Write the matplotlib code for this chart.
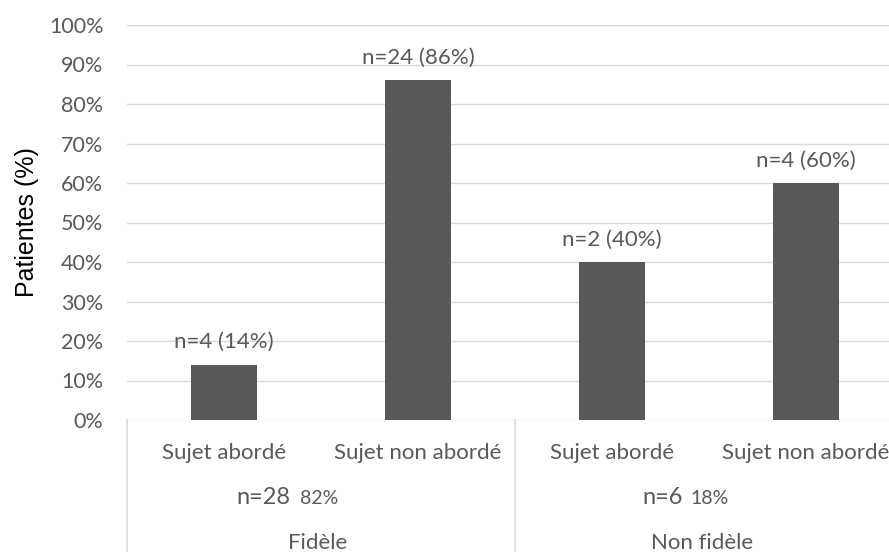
import matplotlib
matplotlib.use("Agg")
from matplotlib import pyplot as plt
from matplotlib import transforms

# Données
categories = ['Sujet abordé', 'Sujet non abordé', 'Sujet abordé', 'Sujet non abordé']
valeurs = [14, 86, 40, 60]
effectifs = [4, 24, 2, 4]
groupes = ['Fidèle', 'Non fidèle']
groupes_n = ['n=28', 'n=6']
groupes_pct = ['82%', '18%']
y_ticks = [0, 10, 20, 30, 40, 50, 60, 70, 80, 90, 100]

gris_texte = '#595959'
gris_barre = '#595959'
gris_ligne = '#d9d9d9'
police = 'Lato'

W, H = 889, 552
fig = plt.figure(figsize=(W / 100, H / 100), dpi=100)
# zone de tracé en pixels : gauche 127, 194 px par catégorie, 0% à y=420, 100% à y=25
ax = fig.add_axes([127 / W, (H - 420) / H, 776 / W, 395 / H])

x = list(range(len(valeurs)))
ax.bar(x, valeurs, width=66 / 194, color=gris_barre, zorder=3)

ax.set_xlim(-0.5, 3.5)
ax.set_ylim(0, 100)
ax.set_yticks(y_ticks)
ax.set_yticklabels([f'{v}%' for v in y_ticks], fontfamily=police, fontsize=15.5, color=gris_texte)
ax.tick_params(axis='y', length=0, pad=17)
ax.set_xticks([])
for s in ax.spines.values():
    s.set_visible(False)
ax.grid(axis='y', color=gris_ligne, lw=1.0, zorder=0)

# Étiquettes de données
for xi, v, n in zip(x, valeurs, effectifs):
    ax.annotate(f'n={n} ({v}%)', (xi, v), xytext=(0, 9), textcoords='offset points',
                ha='center', va='bottom', fontfamily=police, fontsize=16, color=gris_texte)

# Axe des catégories à deux niveaux
trans = transforms.blended_transform_factory(ax.transData, ax.transAxes)
bas = -133 / 395
for xv in [-0.5, 1.5, 3.5]:
    ax.plot([xv, xv], [0, bas], color=gris_ligne, lw=1.2, transform=trans, clip_on=False)

for xi, c in zip(x, categories):
    ax.text(xi, -33 / 395, c, transform=trans, ha='center', va='center',
            fontfamily=police, fontsize=16, color=gris_texte)

pos_n = [0.34, 2.366]
pos_pct = [0.39, 2.407]
pos_g = [0.485, 2.464]
for i in range(len(groupes)):
    ax.text(pos_n[i], -78 / 395, groupes_n[i], transform=trans, ha='right', va='center',
            fontfamily=police, fontsize=17, color=gris_texte)
    ax.text(pos_pct[i], -78 / 395, groupes_pct[i], transform=trans, ha='left', va='center',
            fontfamily=police, fontsize=14, color=gris_texte)
    ax.text(pos_g[i], -123 / 395, groupes[i], transform=trans, ha='center', va='center',
            fontfamily=police, fontsize=16, color=gris_texte)

fig.text(27 / W, 1 - 222 / H, 'Patientes (%)', rotation=90, ha='center', va='center',
         fontfamily='Liberation Sans', fontsize=18, color='black')

fig.savefig('out.png', dpi=100)
